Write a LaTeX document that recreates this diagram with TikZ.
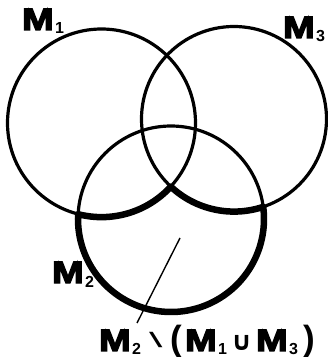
\documentclass[tikz,border=0pt]{standalone}
\usepackage{graphicx}
\usepackage{fontspec}
\setmainfont{Liberation Sans}
\font\heavyM="Liberation Sans Bold:embolden=4" at 31pt
\newfontfamily\djv{DejaVu Sans}
\usetikzlibrary{calc}
\newcommand{\Mlab}[1]{\scalebox{1.22}[1]{\heavyM M}\hspace{1.5pt}\raisebox{-4pt}{\bfseries\fontsize{16}{18}\selectfont #1}}
\begin{document}
\begin{tikzpicture}[x=1pt,y=1pt,
  thincirc/.style={line width=3.2pt},
  thickbd/.style={line width=6.5pt, line join=round},
  leader/.style={line width=1.4pt},
  lab/.style={inner sep=0pt, anchor=base west}]
\useasboundingbox (0,0) rectangle (328,357);
\coordinate (c1) at (101.5,234);
\coordinate (c2) at (171,138);
\coordinate (c3) at (234,238);
\draw[thincirc] (c1) circle[radius=94];
\draw[thincirc] (c2) circle[radius=93];
\draw[thincirc] (c3) circle[radius=92.5];
\draw[thickbd] ($(c2)+(177:93)$) arc[start angle=177,end angle=367.5,radius=93]
  arc[start angle=-71.6,end angle=-133.1,radius=92.5]
  arc[start angle=-42.5,end angle=-104.4,radius=94] -- cycle;
\coordinate (la) at (180,119);
\coordinate (lb) at (137,34);
\draw[leader] (la) -- (lb);
\node[lab] (m1) at (22,327) {\Mlab{1}};
\node[lab] (m3) at (283,319) {\Mlab{3}};
\node[lab] (m2) at (52,74) {\Mlab{2}};
\node[lab] (diff) at (99,6) {\Mlab{2}\hspace{8pt}\raisebox{3pt}{\scalebox{2.3}[1]{\fontsize{21}{23}\selectfont\textbackslash}}\hspace{8pt}{\bfseries\fontsize{35}{37}\selectfont(}\hspace{3pt}\Mlab{1}\hspace{4pt}{\djv\bfseries\fontsize{26}{28}\selectfont ∪}\hspace{4pt}\Mlab{3}\hspace{5pt}{\bfseries\fontsize{35}{37}\selectfont)}};
\end{tikzpicture}
\end{document}
